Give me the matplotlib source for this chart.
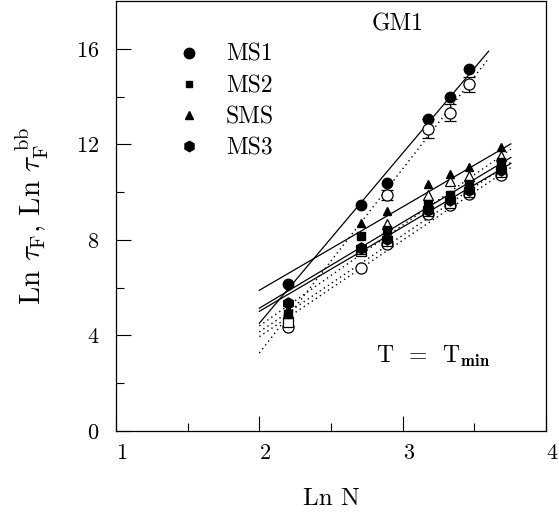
import matplotlib.pyplot as plt
from matplotlib.lines import Line2D
from matplotlib.transforms import ScaledTranslation

plt.rcParams['font.family'] = ['cmr10', 'DejaVu Serif']
plt.rcParams['mathtext.fontset'] = 'cm'
plt.rcParams['axes.formatter.use_mathtext'] = True

# Ln N for N = 9, 15, 18, 24, 28, 32, 40
lnN = [2.197, 2.708, 2.890, 3.178, 3.332, 3.466, 3.689]

# filled symbols: Ln tau_F
ms1 = [6.14, 9.47, 10.37, 13.07, 13.99, 15.16]
ms2 = [4.90, 8.17, 8.40, 9.51, 9.86, 10.36, 11.25]
sms = [5.10, 8.70, 9.20, 10.35, 10.76, 11.07, 11.88]
ms3 = [5.37, 7.67, 8.05, 9.26, 9.65, 10.07, 10.93]

# open symbols: Ln tau_F^bb
ms1_bb = [9.89, 12.66, 13.33, 14.52]
ms1_bb_err = [0.20, 0.40, 0.35, 0.31]
ms2_bb = [4.55, 7.55, 7.95, 9.20, 9.55, 10.00, 10.85]
sms_bb = [4.95, 7.60, 8.67, 9.89, 10.46, 10.69, 11.53]
ms3_bb = [4.35, 6.82, 7.84, 9.09, 9.44, 9.94, 10.72]

# fitted lines: (x start, x end, y start, y end)
fit_solid = {
    'MS1': (2.0, 3.60, 4.51, 15.90),
    'SMS': (2.0, 3.755, 5.89, 12.02),
    'MS2': (2.0, 3.755, 5.14, 11.45),
    'MS3': (2.0, 3.755, 5.01, 11.20),
}
fit_dotted = {
    'MS1': (2.0, 3.60, 3.26, 15.60),
    'SMS': (2.0, 3.755, 4.40, 11.80),
    'MS2': (2.0, 3.755, 4.15, 11.25),
    'MS3': (2.0, 3.755, 3.95, 11.03),
}

fig = plt.figure(figsize=(5.59, 5.2), dpi=100)
ax = fig.add_axes([0.2075, 0.1712, 0.7692, 0.8268])

for x0, x1, y0, y1 in fit_solid.values():
    ax.plot([x0, x1], [y0, y1], color='black', lw=0.9)
for x0, x1, y0, y1 in fit_dotted.values():
    ax.plot([x0, x1], [y0, y1], color='black', lw=1.0, linestyle=(0, (1, 2.5)))

# open symbols first so filled ones sit on top
ax.plot(lnN, ms3_bb, 'o', ms=8, mfc='white', mec='black', mew=0.9, ls='none')
ax.plot(lnN, ms2_bb, 's', ms=6.5, mfc='white', mec='black', mew=0.9, ls='none')
ax.plot(lnN, sms_bb, '^', ms=7.5, mfc='white', mec='black', mew=0.9, ls='none')
ax.errorbar(lnN[2:6], ms1_bb, yerr=ms1_bb_err, fmt='o', ms=8, mfc='white',
            mec='black', mew=0.9, ecolor='black', elinewidth=0.9, capsize=4, capthick=0.9)

ax.plot(lnN, ms3, 'h', ms=8, color='black', ls='none')
ax.plot(lnN, ms2, 's', ms=5.5, color='black', ls='none')
ax.plot(lnN, sms, '^', ms=6, color='black', ls='none')
ax.plot(lnN[:6], ms1, 'o', ms=7.5, color='black', ls='none')

handles = [
    Line2D([], [], marker='o', ms=7.5, color='black', ls='none'),
    Line2D([], [], marker='s', ms=5, color='black', ls='none'),
    Line2D([], [], marker='^', ms=5.5, color='black', ls='none'),
    Line2D([], [], marker='h', ms=7.5, color='black', ls='none'),
]
ax.legend(handles, ['MS1', 'MS2', 'SMS', 'MS3'], loc='upper left',
          bbox_to_anchor=(0.085, 0.95), frameon=False, fontsize=17,
          labelspacing=0.38, handletextpad=0.9, handlelength=1.3)

ax.text(2.965, 17.0, 'GM1', fontsize=17, ha='center', va='center')
ax.text(2.811, 2.84, r'T  =  T$_{\mathbf{min}}$', fontsize=17, ha='left', va='baseline')

ax.set_xlim(1, 4)
ax.set_ylim(0, 18)
ax.set_xticks([1, 2, 3, 4])
ax.set_xticks([1.5, 2.5, 3.5], minor=True)
ax.set_yticks([0, 4, 8, 12, 16])
ax.set_yticks([2, 6, 10, 14], minor=True)
ax.tick_params(which='both', direction='in', top=False, right=False, labelsize=16)
ax.tick_params(which='major', length=11, width=0.8)
ax.tick_params(which='minor', length=5.5, width=0.8)
ax.tick_params(axis='x', pad=9)
ax.tick_params(axis='y', pad=12)
for s in ax.spines.values():
    s.set_linewidth(0.9)

# x tick labels sit a little to the right of their ticks in the original
shift = ScaledTranslation(6 / 100, 0, fig.dpi_scale_trans)
for lab in ax.get_xticklabels():
    lab.set_transform(lab.get_transform() + shift)

ax.set_xlabel('Ln N', fontsize=18, labelpad=18)
ax.set_ylabel(r'Ln $\tau_{\rm F}$, Ln $\tau_{\rm F}^{\ \rm bb}$', fontsize=21, labelpad=18)

fig.savefig('out.png', dpi=100)
